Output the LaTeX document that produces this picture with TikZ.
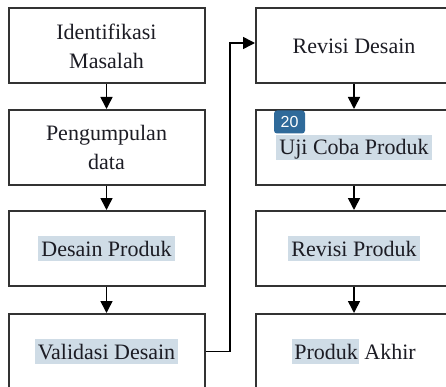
\documentclass[tikz,border=0pt]{standalone}
\usepackage{fontspec}
\setmainfont{Liberation Serif}
\newfontfamily\badgefont{Liberation Sans}
\usetikzlibrary{arrows.meta}
\definecolor{hl}{HTML}{CFDCE6}
\definecolor{badge}{HTML}{2F6A9A}
\definecolor{boxline}{HTML}{333333}
\definecolor{txt}{HTML}{1C1C24}
\newcommand\hlt[1]{{\setlength{\fboxsep}{0pt}\colorbox{hl}{\rule[-5pt]{0pt}{25pt}\hspace{3pt}#1\hspace{3pt}}}}
\begin{document}
\begin{tikzpicture}[x=1pt,y=-1pt,
  box/.style={draw=boxline,line width=2pt,minimum width=196pt,minimum height=75pt,
    inner sep=0pt,align=center,text=txt,font=\fontsize{22}{29}\selectfont},
  arr/.style={draw=black,line width=1.6pt,-{Triangle[length=12pt,width=12pt]}},
  badgestyle/.style={fill=badge,rounded corners=3pt,minimum width=31pt,minimum height=23pt,
    inner sep=0pt,text=white,font=\badgefont\fontsize{16}{16}\selectfont}]
\path[use as bounding box] (0,0) rectangle (446,387);
\clip (0,0) rectangle (446,387);
\node[box] (im) at (106.5,46) {Identifikasi\\Masalah};
\node[box] (pd) at (106.5,147.5) {Pengumpulan\\data};
\node[box] (dp) at (106.5,248.5) {\hlt{Desain Produk}};
\node[box] (vd) at (106.5,351.5) {\hlt{Validasi Desain}};
\node[box] (rd) at (354,46) {Revisi Desain};
\node[box] (uc) at (354,147.5) {\hlt{Uji Coba Produk}};
\node[box] (rp) at (354,248.5) {\hlt{Revisi Produk}};
\node[box] (pa) at (354,351.5) {{\setlength{\fboxsep}{0pt}\colorbox{hl}{\rule[-5pt]{0pt}{25pt}\hspace{2pt}Produk\hspace{1pt}}} Akhir};
\node[badgestyle] (bd) at (289.5,122) {20};
\draw[arr] (im.south) -- (pd.north);
\draw[arr] (pd.south) -- (dp.north);
\draw[arr] (dp.south) -- (vd.north);
\draw[arr] (rd.south) -- (uc.north);
\draw[arr] (uc.south) -- (rp.north);
\draw[arr] (rp.south) -- (pa.north);
\coordinate (turn) at (230,351.5);
\draw[arr,line width=1.5pt] (vd.east) -- (turn) |- ([yshift=3pt]rd.west);
\end{tikzpicture}
\end{document}
